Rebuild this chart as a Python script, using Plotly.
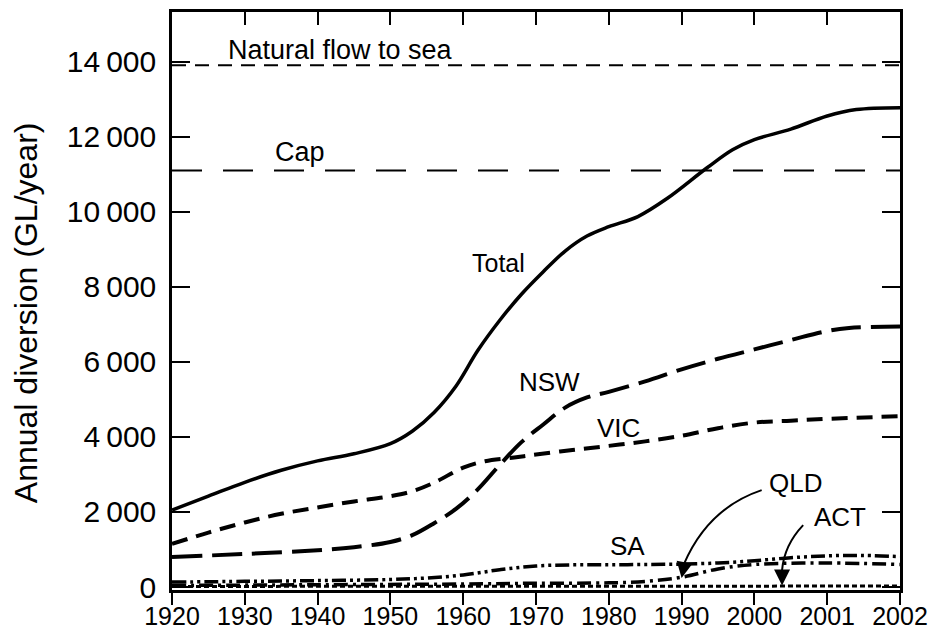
import plotly.graph_objects as go

# x positions are tick-slot indices (0 = 1920 ... 10 = 2002)
tick_labels_x = ["1920", "1930", "1940", "1950", "1960", "1970", "1980", "1990", "2000", "2001", "2002"]
tick_vals_y = [0, 2000, 4000, 6000, 8000, 10000, 12000, 14000]
tick_labels_y = ["0", "2\u2009000", "4\u2009000", "6\u2009000", "8\u2009000", "10\u2009000", "12\u2009000", "14\u2009000"]

total_x = [0, 0.5, 1, 1.5, 2, 2.5, 3, 3.3, 3.6, 3.9, 4.2, 4.5, 4.8, 5.1, 5.4, 5.7, 6, 6.4, 6.8, 7.35, 7.7, 8, 8.5, 9, 9.4, 10]
total_y = [2050, 2420, 2790, 3110, 3360, 3550, 3820, 4150, 4650, 5350, 6300, 7100, 7800, 8400, 8950, 9350, 9600, 9870, 10350, 11170, 11650, 11920, 12200, 12550, 12720, 12770]

nsw_x = [0, 1, 2, 2.5, 3, 3.3, 3.6, 3.9, 4.2, 4.5, 4.8, 5.1, 5.4, 5.7, 6, 6.5, 7, 7.5, 8, 8.5, 9, 9.3, 10]
nsw_y = [800, 880, 980, 1060, 1200, 1380, 1700, 2080, 2600, 3250, 3860, 4330, 4780, 5050, 5200, 5480, 5800, 6080, 6330, 6580, 6820, 6900, 6940]

vic_x = [0, 0.5, 1, 1.5, 2, 2.5, 3, 3.3, 3.6, 4, 4.3, 4.7, 5, 5.5, 6, 6.5, 7, 7.5, 8, 8.5, 9, 10]
vic_y = [1150, 1450, 1720, 1950, 2120, 2280, 2420, 2550, 2780, 3180, 3350, 3450, 3530, 3650, 3760, 3880, 4030, 4230, 4380, 4430, 4480, 4550]

sa_x = [0, 1, 2, 3, 3.5, 4, 4.5, 5, 5.5, 6, 6.5, 7, 7.5, 8, 8.5, 9, 9.5, 10]
sa_y = [130, 150, 170, 200, 240, 320, 460, 560, 590, 590, 600, 610, 640, 700, 780, 830, 840, 810]

qld_x = [0, 2, 4, 5, 6, 6.5, 7, 7.5, 8, 9, 10]
qld_y = [40, 60, 80, 100, 110, 150, 260, 480, 600, 640, 600]

act_x = [0, 5, 10]
act_y = [15, 20, 25]

natural_flow = 13900
cap_value = 11100

FONT = "Liberation Sans, Arial, Helvetica, sans-serif"

fig = go.Figure()

fig.add_trace(go.Scatter(x=[0, 10], y=[natural_flow, natural_flow], mode="lines",
                         line=dict(color="black", width=2, dash="14px,9px")))
fig.add_trace(go.Scatter(x=[0, 10], y=[cap_value, cap_value], mode="lines",
                         line=dict(color="black", width=2, dash="30px,21px")))
fig.add_trace(go.Scatter(x=act_x, y=act_y, mode="lines",
                         line=dict(color="black", width=3, dash="5px,3px")))
fig.add_trace(go.Scatter(x=qld_x, y=qld_y, mode="lines", line_shape="spline",
                         line=dict(color="black", width=3.5, dash="14px,5px,3px,5px")))
fig.add_trace(go.Scatter(x=sa_x, y=sa_y, mode="lines", line_shape="spline",
                         line=dict(color="black", width=3.5, dash="14px,4px,3px,4px,3px,4px")))
fig.add_trace(go.Scatter(x=vic_x, y=vic_y, mode="lines", line_shape="spline",
                         line=dict(color="black", width=4, dash="16px,9px")))
fig.add_trace(go.Scatter(x=nsw_x, y=nsw_y, mode="lines", line_shape="spline",
                         line=dict(color="black", width=4, dash="30px,10px")))
fig.add_trace(go.Scatter(x=total_x, y=total_y, mode="lines", line_shape="spline",
                         line=dict(color="black", width=3.5)))
# invisible trace to activate the top axis
fig.add_trace(go.Scatter(x=[0, 10], y=[0, 0], xaxis="x2", mode="lines",
                         line=dict(width=0), hoverinfo="skip", showlegend=False))

labels = [
    ("Natural flow to sea", 2.31, 14300, 27),
    ("Cap", 1.76, 11590, 27),
    ("Total", 4.48, 8630, 25),
    ("NSW", 5.19, 5460, 26),
    ("VIC", 6.13, 4240, 26),
    ("SA", 6.25, 1090, 26),
    ("QLD", 8.57, 2770, 26),
    ("ACT", 9.18, 1860, 26),
]
for txt, lx, ly, fs in labels:
    fig.add_annotation(x=lx, y=ly, text=txt, showarrow=False,
                       font=dict(family=FONT, size=fs, color="black"))

# y-axis title
fig.add_annotation(xref="paper", yref="paper", x=-0.2005, y=0.479, text="Annual diversion (GL/year)",
                   textangle=-90, showarrow=False, xanchor="center", yanchor="middle",
                   font=dict(family=FONT, size=32, color="black"))

# curved arrows (QLD, ACT)
fig.add_shape(type="path", xref="x", yref="y",
              path="M 8.10,2580 Q 7.36,2100 7.03,600",
              line=dict(color="black", width=2))
fig.add_shape(type="path", xref="x", yref="y",
              path="M 8.67,1650 Q 8.41,1120 8.38,450",
              line=dict(color="black", width=2))
fig.add_annotation(x=7.0, y=240, ax=3, ay=-16, text="", showarrow=True,
                   arrowhead=2, arrowsize=1.6, arrowwidth=2, arrowcolor="black", standoff=0)
fig.add_annotation(x=8.38, y=40, ax=0, ay=-16, text="", showarrow=True,
                   arrowhead=2, arrowsize=1.6, arrowwidth=2, arrowcolor="black", standoff=0)

fig.update_layout(
    width=931, height=639,
    margin=dict(l=172, r=31, t=12, b=49, autoexpand=False),
    paper_bgcolor="white", plot_bgcolor="white",
    showlegend=False,
    font=dict(family=FONT, color="black"),
    xaxis=dict(
        range=[0, 10], tickvals=list(range(11)), ticktext=tick_labels_x,
        ticks="outside", ticklen=12, tickwidth=2, tickcolor="black",
        showline=True, linewidth=2.5, linecolor="black", mirror=True,
        showgrid=False, zeroline=False, automargin=False, ticklabelstandoff=-10,
        tickfont=dict(family=FONT, size=25, color="black"),
    ),
    xaxis2=dict(
        overlaying="x", side="top", range=[0, 10], tickvals=list(range(1, 10)),
        showticklabels=False, ticks="inside", ticklen=13, tickwidth=2, tickcolor="black",
        showgrid=False, zeroline=False, showline=False, automargin=False,
    ),
    yaxis=dict(
        range=[-80, 15320], tickvals=tick_vals_y, ticktext=tick_labels_y,
        ticks="inside", ticklen=18, tickwidth=2, tickcolor="black",
        showline=True, linewidth=2.5, linecolor="black", mirror="ticks",
        showgrid=False, zeroline=False, ticklabelstandoff=7, automargin=False,
        tickfont=dict(family=FONT, size=30, color="black"),
    ),
)

fig.write_html(
    "out.html",
    config={"displayModeBar": False},
    post_script="document.body.style.margin='0';document.body.style.overflow='hidden';",
)
